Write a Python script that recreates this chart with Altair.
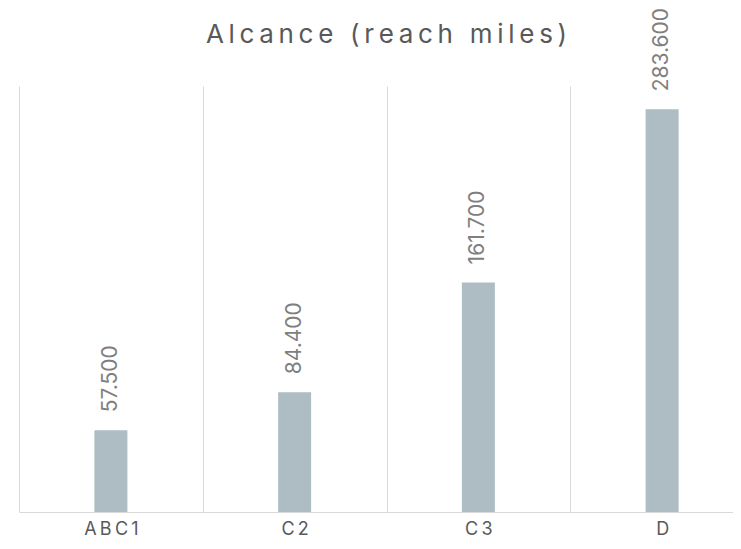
import altair as alt
import pandas as pd

categories = ["ABC1", "C2", "C3", "D"]
values = [57500, 84400, 161700, 283600]
title_text = "Alcance (reach miles)"

df = pd.DataFrame({"cat": categories, "val": values})

PLOT_W = 714
RANGE_W = 735
PLOT_H = 426
FONT = "Inter"
SP = "\u2009"

x = alt.X(
    "cat:N", sort=categories, title=None,
    scale=alt.Scale(range=[0, RANGE_W], paddingInner=0, paddingOuter=0),
    axis=alt.Axis(
        tickBand="extent", grid=True, gridColor="#d9d9d9", gridWidth=1,
        ticks=False, domainColor="#d9d9d9", domainWidth=1.2, labelAngle=0,
        labelFontSize=18, labelColor="#595959", labelFont=FONT,
        labelBaseline="alphabetic", labelPadding=22,
        labelExpr="join(split(datum.label, ''), '" + SP + "')",
    ),
)
y = alt.Y("val:Q", scale=alt.Scale(domain=[0, 300000]), axis=None)

base = alt.Chart(df).encode(x=x, y=y)

bars = base.mark_bar(size=33, color="#aebdc3")

labels = base.transform_calculate(
    lbl="replace(format(datum.val, ','), ',', '.')"
).mark_text(
    angle=270, align="left", baseline="middle", dx=18,
    fontSize=21, font=FONT, color="#7f7f7f",
).encode(text="lbl:N")

title = alt.Chart(pd.DataFrame({"t": [title_text]})).transform_calculate(
    tt="join(split(datum.t, ''), '" + SP + "')"
).mark_text(
    align="center", baseline="alphabetic", fontSize=26, font=FONT, color="#595959",
).encode(x=alt.value(RANGE_W / 2), y=alt.value(-43), text="tt:N")

chart = alt.layer(bars, labels, title).properties(
    width=PLOT_W, height=PLOT_H,
    autosize=alt.AutoSizeParams(type="none"),
    padding={"left": 11, "top": 78, "right": 0, "bottom": 29},
).configure_view(stroke=None)

chart.save("out.html", embed_options={"renderer": "svg", "actions": False})
